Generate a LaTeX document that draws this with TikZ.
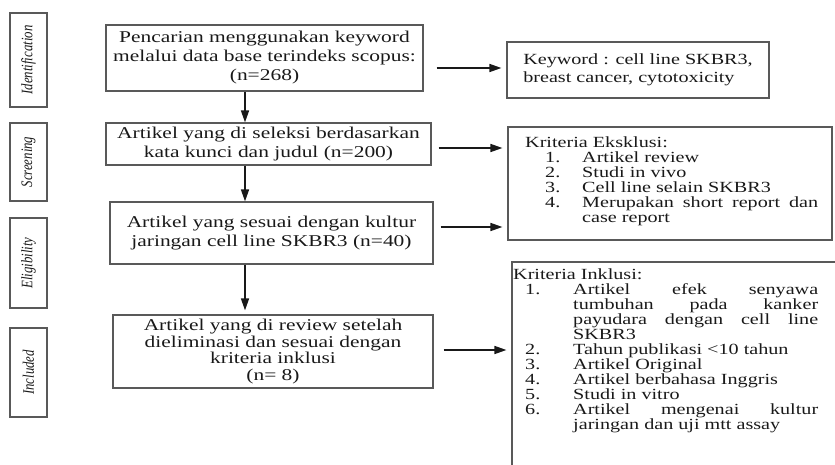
\documentclass[tikz,border=0pt]{standalone}
\usepackage{fontspec}
\setmainfont{Liberation Serif}[FakeStretch=1.3]
\newfontfamily\sidefont{Liberation Serif}[FakeStretch=0.8]
\usetikzlibrary{arrows.meta}
\newcommand\litem[4]{\par\noindent\hangindent=#2\hangafter=1\makebox[#2][l]{\hspace*{#1}#3}#4}
\tikzset{
  box/.style={draw=black!65, line width=1.2pt, inner sep=0pt, text=black!90},
  mainbox/.style={box, font=\fontsize{16.5}{19}\selectfont, align=center},
  sidebox/.style={box, rotate=90, font=\sidefont\itshape\fontsize{16}{18}\selectfont},
  arr/.style={draw=black!90, line width=1.6pt, -{Triangle[length=12pt,width=8pt]}},
  listtext/.style={inner sep=0pt, anchor=north west, text=black!90, align=justify, font=\fontsize{15.5}{15}\selectfont},
}
\begin{document}
\begin{tikzpicture}[x=1pt,y=-1pt]
\useasboundingbox (0,0) rectangle (835,465);
\clip (0,0) rectangle (835,465);
% side labels
\node[sidebox, minimum width=94pt, minimum height=37pt] (S1) at (28.5,60) {Identification};
\node[sidebox, minimum width=78pt, minimum height=37pt] (S2) at (28.5,162) {Screening};
\node[sidebox, minimum width=90pt, minimum height=37pt] (S3) at (28.5,263) {Eligibility};
\node[sidebox, minimum width=89pt, minimum height=37pt] (S4) at (28.5,372.5) {Included};
% main boxes
\node[mainbox, minimum width=317pt, minimum height=66pt] (B1) at (264.5,58) {Pencarian menggunakan keyword\\melalui data base terindeks scopus:\\(n=268)};
\node[mainbox, minimum width=325pt, minimum height=42pt] (B2) at (268.5,144) {Artikel yang di seleksi berdasarkan\\kata kunci dan judul (n=200)};
\node[mainbox, minimum width=323pt, minimum height=62pt] (B3) at (271.5,233) {Artikel yang sesuai dengan kultur\\jaringan cell line SKBR3 (n=40)};
\node[mainbox, minimum width=320pt, minimum height=73pt, font=\fontsize{16.5}{16.8}\selectfont] (B4) at (273,351.5) {Artikel yang di review setelah\\dieliminasi dan sesuai dengan\\kriteria inklusi\\(n= 8)};
% right boxes
\node[box, minimum width=262pt, minimum height=56pt, align=left, font=\fontsize{15.5}{18.5}\selectfont] (KW) at (638,70) {Keyword : cell line SKBR3,\\breast cancer, cytotoxicity};
\node[box, minimum width=324pt, minimum height=113pt] (EX) at (670,183.5) {};
\node[listtext, text width=293pt] (EXt) at (525,137) {\noindent Kriteria Eksklusi:%
\litem{20pt}{57pt}{1.}{Artikel review}%
\litem{20pt}{57pt}{2.}{Studi in vivo}%
\litem{20pt}{57pt}{3.}{Cell line selain SKBR3}%
\litem{20pt}{57pt}{4.}{Merupakan short report dan\linebreak case report}\par};
\node[box, minimum width=338pt, minimum height=218pt] (IN) at (681,371) {};
\node[listtext, text width=305pt] (INt) at (513,269) {\noindent Kriteria Inklusi:%
\litem{12pt}{60pt}{1.}{Artikel efek senyawa\linebreak tumbuhan pada kanker\linebreak payudara dengan cell line\linebreak SKBR3}%
\litem{12pt}{60pt}{2.}{Tahun publikasi <10 tahun}%
\litem{12pt}{60pt}{3.}{Artikel Original}%
\litem{12pt}{60pt}{4.}{Artikel berbahasa Inggris}%
\litem{12pt}{60pt}{5.}{Studi in vitro}%
\litem{12pt}{60pt}{6.}{Artikel mengenai kultur\linebreak jaringan dan uji mtt assay}\par};
% arrows
\coordinate (ax) at (245,0);
\draw[arr] (B1.south -| ax) -- (B2.north -| ax);
\draw[arr] (B2.south -| ax) -- (B3.north -| ax);
\draw[arr, shorten >=4pt] (B3.south -| ax) -- (B4.north -| ax);
\coordinate (y1) at (0,68);
\coordinate (y2) at (0,148);
\coordinate (y3) at (0,227);
\coordinate (y4) at (0,350);
\draw[arr, shorten <=13pt, shorten >=5pt] (B1.east |- y1) -- (KW.west |- y1);
\draw[arr, shorten <=7pt, shorten >=5pt] (B2.east |- y2) -- (EX.west |- y2);
\draw[arr, shorten <=7pt, shorten >=5pt] (B3.east |- y3) -- (EX.west |- y3);
\draw[arr, shorten <=10pt, shorten >=5pt] (B4.east |- y4) -- (IN.west |- y4);
\end{tikzpicture}
\end{document}
